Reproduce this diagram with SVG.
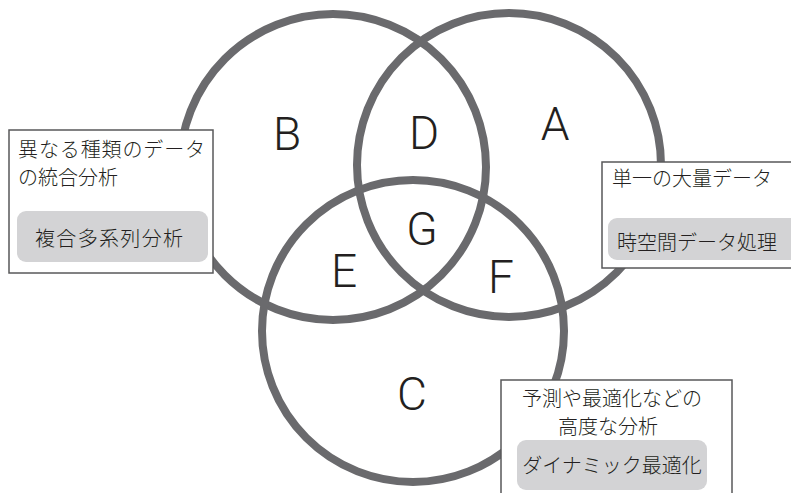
<svg xmlns="http://www.w3.org/2000/svg" width="791" height="493" viewBox="0 0 791 493">
<style>
.ring{fill:none;stroke:#6a6a6d;stroke-width:8}
.lbl{font-family:Roboto,"Liberation Sans",sans-serif;font-weight:300;font-size:46px;fill:#231f20;text-anchor:middle}
.box{fill:#fff;stroke:#58585a;stroke-width:1.5}
.pill{fill:#d3d3d5}
.jp{font-family:"Noto Sans CJK JP","Noto Sans CJK SC",sans-serif;font-weight:300;font-size:20px;fill:#231f20}
.mid{text-anchor:middle}
</style>
<rect width="791" height="493" fill="#fff"/>
<g id="connectors"></g>
<g id="circleB"><circle class="ring" cx="333" cy="167" r="153"/></g>
<g id="circleA"><circle class="ring" cx="509" cy="165" r="152"/></g>
<g id="circleC"><circle class="ring" cx="413" cy="331" r="151"/></g>
<g id="labels">
<text class="lbl" x="287" y="150">B</text>
<text class="lbl" x="555" y="140">A</text>
<text class="lbl" x="424" y="149">D</text>
<text class="lbl" x="422" y="245">G</text>
<text class="lbl" x="344" y="287">E</text>
<text class="lbl" x="501" y="293">F</text>
<text class="lbl" x="412" y="410">C</text>
</g>
<g id="boxLeft">
<rect class="box" x="9" y="130" width="204" height="143"/>
<text class="jp" x="18" y="157" textLength="187">異なる種類のデータ</text>
<text class="jp" x="18" y="185">の統合分析</text>
<rect class="pill" x="17" y="211" width="191" height="51" rx="9"/>
<text class="jp mid" x="109" y="246" textLength="148">複合多系列分析</text>
</g>
<g id="boxRight">
<rect class="box" x="602" y="162" width="200" height="106"/>
<text class="jp" x="612" y="186">単一の大量データ</text>
<rect class="pill" x="608" y="218" width="200" height="42" rx="9"/>
<text class="jp" x="617" y="250">時空間データ処理</text>
</g>
<g id="boxBottom">
<rect class="box" x="501" y="380" width="231" height="120"/>
<text class="jp mid" x="612" y="406">予測や最適化などの</text>
<text class="jp mid" x="608" y="434">高度な分析</text>
<rect class="pill" x="517" y="440" width="190" height="50" rx="9"/>
<text class="jp mid" x="612" y="473">ダイナミック最適化</text>
</g>
</svg>
